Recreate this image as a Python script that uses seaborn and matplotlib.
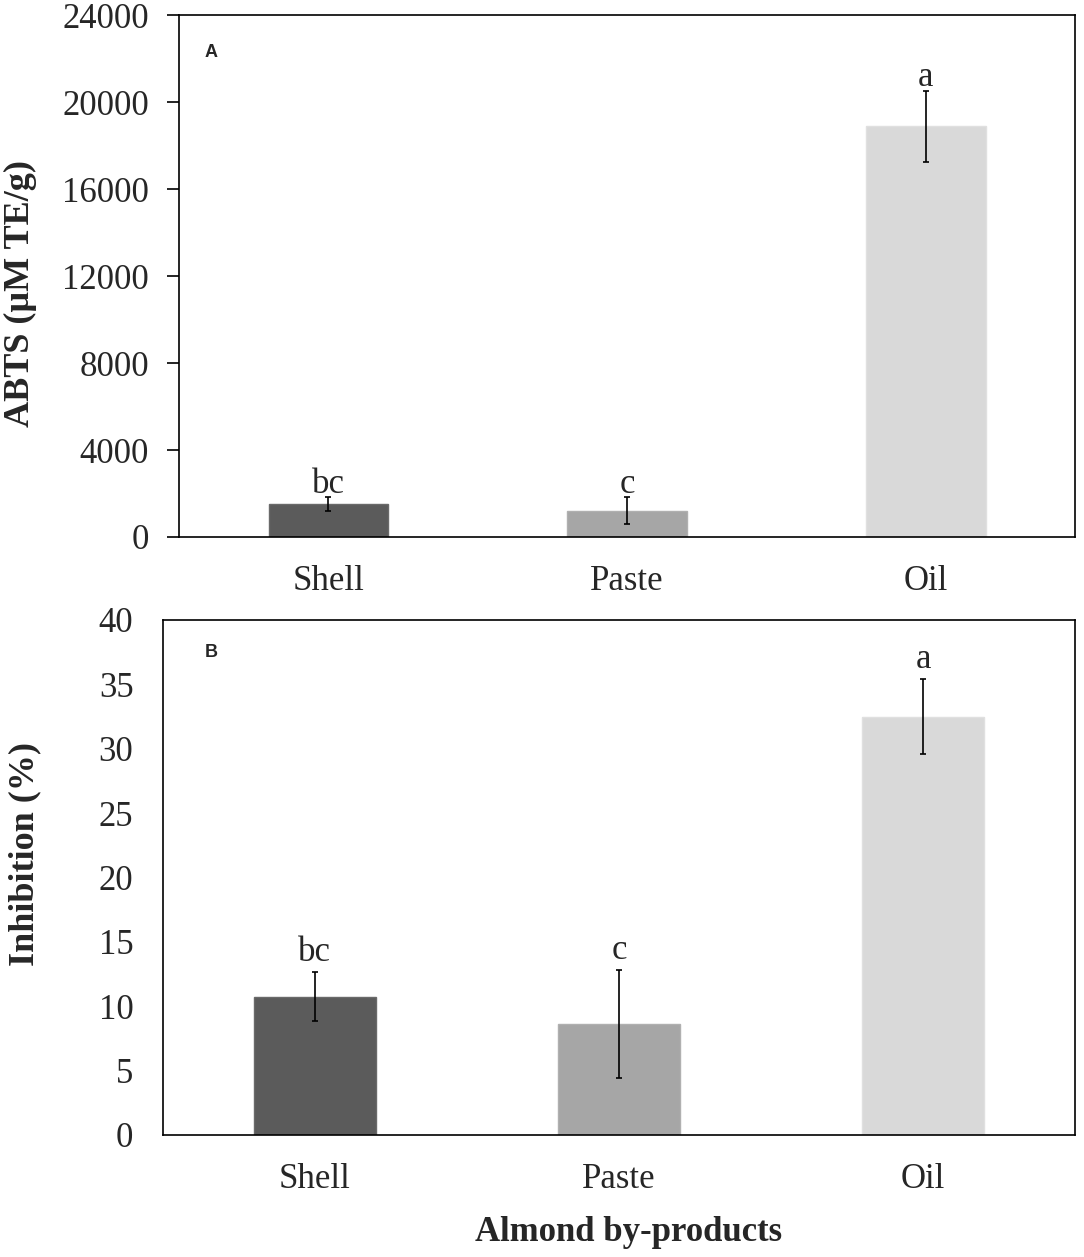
import pandas as pd
import numpy as np
import matplotlib
matplotlib.use('Agg')
import matplotlib.pyplot as plt
import seaborn as sns

# Datos
productos = ['Shell', 'Paste', 'Oil']
abts_media = [1520, 1210, 18890]
abts_sd = [310, 610, 1630]
abts_letras = ['bc', 'c', 'a']
inhib_media = [10.75, 8.6, 32.5]
inhib_sd = [1.9, 4.2, 2.9]
inhib_letras = ['bc', 'c', 'a']
colores = ['#5b5b5b', '#a6a6a6', '#d9d9d9']
bordes = ['#6a6a6a', '#b0b0b0', '#e0e0e0']

sns.set_style('white')
plt.rcParams['font.family'] = ['Liberation Serif', 'DejaVu Serif']

fig = plt.figure(figsize=(10.84, 12.57), dpi=100)
axA = fig.add_axes([0.165, 0.5728, 0.827, 0.4152])
axB = fig.add_axes([0.150, 0.0971, 0.842, 0.4097])


def panel(ax, media, sd, letras, ylim, paso, ylabel, etiqueta, pos_et, offset, con_ticks):
    df = pd.DataFrame({'producto': productos, 'valor': media})
    sns.barplot(data=df, x='producto', y='valor', hue='producto',
                palette=colores, width=0.4, errorbar=None, legend=False, ax=ax)
    for p, b in zip(ax.patches, bordes):
        p.set_edgecolor(b)
        p.set_linewidth(1)
    xs = [p.get_x() + p.get_width() / 2 for p in ax.patches]
    ax.errorbar(xs, media, yerr=sd, fmt='none', ecolor='black',
                elinewidth=1.2, capsize=2.5, capthick=1.2, zorder=5)
    for x, m, s, l in zip(xs, media, sd, letras):
        ax.annotate(l, (x, m + s), xytext=(0, offset), textcoords='offset points',
                    ha='center', va='bottom', fontsize=25)
    ax.set_ylim(*ylim)
    ax.set_yticks(np.arange(ylim[0], ylim[1] + paso, paso))
    ax.set_xlim(-0.5, 2.5)
    for s in ax.spines.values():
        s.set_color('black')
        s.set_linewidth(1.2)
    ax.tick_params(axis='x', length=0, labelsize=25, pad=20)
    if con_ticks:
        ax.tick_params(axis='y', direction='out', length=8.5, width=1.2,
                       color='black', labelsize=25, pad=13, left=True)
    else:
        ax.tick_params(axis='y', length=0, labelsize=25, pad=21)
    ax.set_xlabel('')
    ax.set_ylabel(ylabel, fontsize=26, fontweight='bold')
    ax.text(pos_et[0], pos_et[1], etiqueta, transform=ax.transAxes, fontsize=13,
            fontweight='bold', family=['Liberation Sans', 'DejaVu Sans'],
            ha='center', va='center')


panel(axA, abts_media, abts_sd, abts_letras, (0, 24000), 4000,
      'ABTS (µM TE/g)', 'A', (0.0357, 0.929), -2.5, True)
panel(axB, inhib_media, inhib_sd, inhib_letras, (0, 40), 5,
      'Inhibition (%)', 'B', (0.0537, 0.936), 2, False)

axA.yaxis.set_label_coords(-0.158, 0.467)
axB.yaxis.set_label_coords(-0.133, 0.545)
axB.set_xlabel('Almond by-products', fontsize=25, fontweight='bold')
axB.xaxis.set_label_coords(0.511, -0.19)
axB.xaxis.label.set_va('center')

fig.savefig('out.png', dpi=100)
